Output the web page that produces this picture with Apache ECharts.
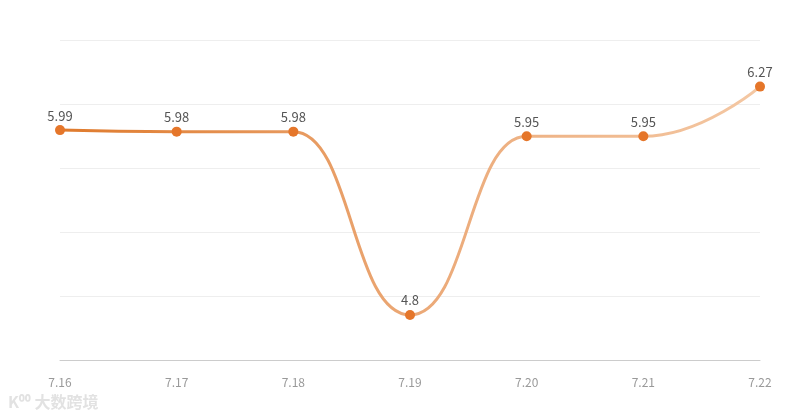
<!DOCTYPE html>
<html>
<head>
<meta charset="utf-8">
<script src="https://cdn.jsdelivr.net/npm/echarts@6/dist/echarts.min.js"></script>
<style>html,body{margin:0;padding:0;background:#fff}#c{width:800px;height:420px}</style>
</head>
<body>
<div id="c"></div>
<script>
const categories = ['7.16', '7.17', '7.18', '7.19', '7.20', '7.21', '7.22'];
const values = [5.99, 5.98, 5.98, 4.8, 5.95, 5.95, 6.27];

const chart = echarts.init(document.getElementById('c'));
chart.setOption({
  animation: false,
  backgroundColor: '#ffffff',
  grid: { left: 60, right: 40, top: 40, bottom: 60 },
  xAxis: {
    type: 'category',
    data: categories,
    boundaryGap: false,
    axisLine: { show: true, lineStyle: { color: '#cccccc', width: 1 } },
    axisTick: { show: false },
    axisLabel: { color: '#999999', fontSize: 12, margin: 16, fontFamily: '"Noto Sans CJK SC", sans-serif' }
  },
  yAxis: {
    type: 'value',
    min: 4.51,
    max: 6.57,
    interval: 0.412,
    axisLine: { show: false },
    axisTick: { show: false },
    axisLabel: { show: false },
    splitLine: { show: true, lineStyle: { color: '#eeeeee', width: 1 } }
  },
  graphic: [{
    type: 'text',
    left: 8,
    top: 394,
    style: { text: 'K⁰⁰ 大数跨境', fill: '#e2e2e2', font: 'bold 16px "Noto Sans CJK SC", sans-serif' }
  }],
  series: [{
    type: 'line',
    data: values,
    smooth: 0.5,
    smoothMonotone: 'x',
    symbol: 'circle',
    symbolSize: 10,
    itemStyle: { color: '#e5762a' },
    lineStyle: {
      width: 3,
      color: new echarts.graphic.LinearGradient(0, 0, 1, 0, [
        { offset: 0, color: '#df7a2c' },
        { offset: 0.5, color: '#eba876' },
        { offset: 1, color: '#f4c8a4' }
      ])
    },
    label: {
      show: true,
      position: 'top',
      distance: 3,
      color: '#555555',
      fontSize: 13,
      fontFamily: '"Noto Sans CJK SC", sans-serif'
    }
  }]
});
</script>
</body>
</html>
